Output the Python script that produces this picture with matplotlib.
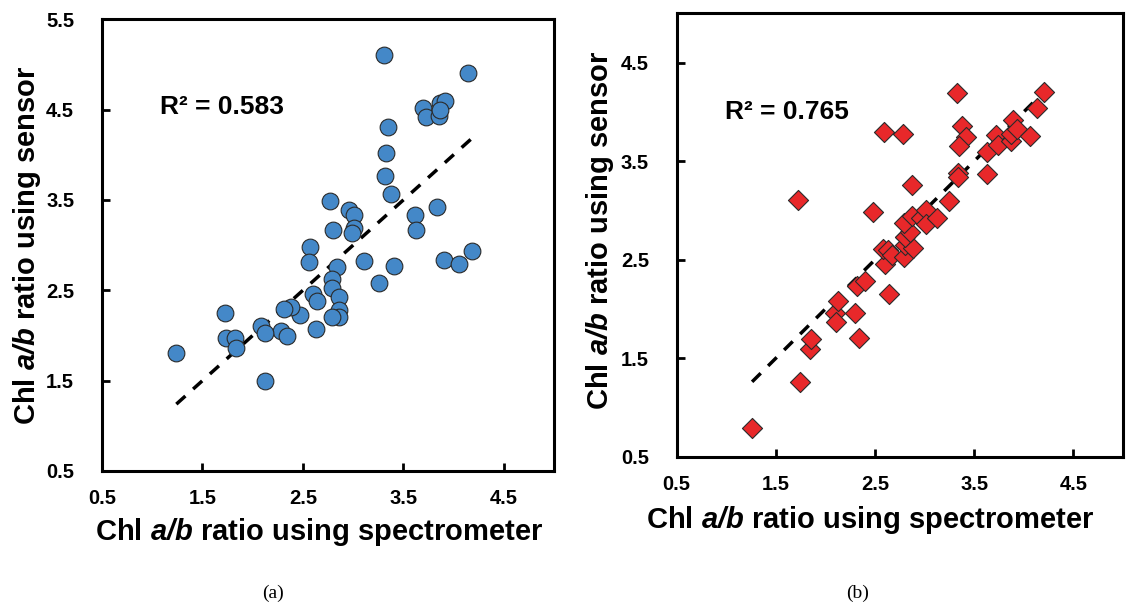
import numpy as np
from matplotlib import pyplot as plt

plt.rcParams['font.family'] = ['Liberation Sans', 'DejaVu Sans']
plt.rcParams['mathtext.fontset'] = 'custom'
plt.rcParams['mathtext.bfit'] = 'Liberation Sans:italic:bold'
plt.rcParams['mathtext.rm'] = 'Liberation Sans:bold'

# panel (a): sensor vs spectrometer, circles
spec_a = [3.31, 4.14, 3.70, 3.73, 3.86, 3.87, 3.91, 3.87, 3.35, 3.33, 3.32, 3.38,
          2.77, 2.96, 3.01, 3.62, 3.84, 3.63, 2.80, 3.01, 2.99, 2.57, 2.56, 2.84,
          3.11, 3.41, 3.90, 4.05, 4.18, 3.26, 2.79, 2.79, 2.60, 2.64, 2.86, 2.86,
          2.86, 2.79, 2.63, 2.47, 2.38, 2.31, 2.28, 2.34, 2.08, 2.12, 1.72, 1.73,
          1.82, 1.83, 1.24, 2.12]
sensor_a = [5.10, 4.91, 4.52, 4.42, 4.43, 4.57, 4.60, 4.50, 4.31, 4.02, 3.77, 3.57,
            3.49, 3.39, 3.33, 3.33, 3.42, 3.17, 3.17, 3.19, 3.14, 2.98, 2.81, 2.76,
            2.83, 2.77, 2.84, 2.79, 2.93, 2.58, 2.63, 2.53, 2.46, 2.38, 2.43, 2.28,
            2.20, 2.20, 2.07, 2.23, 2.31, 2.29, 2.05, 1.99, 2.11, 2.03, 2.25, 1.97,
            1.97, 1.86, 1.81, 1.50]

# panel (b): diamonds
spec_b = [1.26, 1.74, 1.72, 1.84, 1.85, 2.10, 2.11, 2.13, 2.30, 2.34, 2.32, 2.40,
          2.64, 2.60, 2.58, 2.63, 2.67, 2.48, 2.59, 2.78, 2.87, 2.79, 2.80, 2.88,
          2.80, 2.85, 2.79, 2.87, 2.96, 3.01, 3.01, 3.12, 3.25, 3.33, 3.38, 3.42,
          3.35, 3.34, 3.34, 3.63, 3.63, 3.72, 3.74, 3.87, 3.87, 3.89, 3.93, 4.06,
          4.13, 4.20]
sensor_b = [0.79, 1.26, 3.11, 1.59, 1.69, 1.96, 1.87, 2.08, 1.96, 1.70, 2.23, 2.28,
            2.15, 2.46, 2.61, 2.60, 2.55, 2.98, 3.80, 3.78, 3.26, 2.53, 2.65, 2.62,
            2.73, 2.78, 2.87, 2.94, 2.92, 3.00, 2.86, 2.92, 3.10, 4.19, 3.86, 3.74,
            3.65, 3.38, 3.34, 3.59, 3.37, 3.76, 3.66, 3.70, 3.78, 3.92, 3.83, 3.75,
            4.04, 4.20]

r2 = ['0.583', '0.765']
ticks = [0.5, 1.5, 2.5, 3.5, 4.5]
xlabel = 'Chl $\\mathbfit{a/b}$ ratio using spectrometer'
ylabel = 'Chl $\\mathbfit{a/b}$ ratio using sensor'

fig = plt.figure(figsize=(11.26, 6.06), dpi=100)
ax1 = fig.add_axes([0.0906, 0.2228, 0.4014, 0.7453])
ax2 = fig.add_axes([0.601, 0.2464, 0.3963, 0.7316])


def style_axes(ax, ymax):
    ax.set_xlim(0.5, 5.0)
    ax.set_ylim(0.5, ymax)
    ax.set_xticks(ticks)
    ax.set_yticks([t for t in ticks + [5.5] if t <= ymax])
    ax.tick_params(direction='in', length=6, width=2, labelsize=14.5)
    ax.tick_params(axis='x', pad=13)
    ax.tick_params(axis='y', pad=20)
    for lab in ax.get_xticklabels() + ax.get_yticklabels():
        lab.set_fontweight('bold')
    for sp in ax.spines.values():
        sp.set_linewidth(2.2)


def one_to_one(ax, x):
    # 1:1 line across the data range
    xs = np.array([min(x), max(x)])
    ax.plot(xs, xs, color='black', linestyle=(0, (3.5, 3.0)), linewidth=2.5, zorder=1)


one_to_one(ax1, spec_a)
ax1.scatter(spec_a, sensor_a, s=145, marker='o', color='#4488C8',
            edgecolor='#2a2a2a', linewidth=0.8, zorder=2)
style_axes(ax1, 5.5)
ax1.text(1.08, 4.53, 'R² = ' + r2[0], fontsize=19, fontweight='bold', va='center')
ax1.text(0.48, -0.135, xlabel, transform=ax1.transAxes, ha='center', va='center',
         fontsize=21, fontweight='bold')
ax1.text(-0.166, 0.5, ylabel, transform=ax1.transAxes, ha='center', va='center',
         rotation=90, fontsize=21, fontweight='bold')

one_to_one(ax2, spec_b)
ax2.scatter(spec_b, sensor_b, s=105, marker='D', color='#E8282A',
            edgecolor='#2a2a2a', linewidth=0.8, zorder=2)
style_axes(ax2, 5.0)
ax2.text(0.99, 4.0, 'R² = ' + r2[1], fontsize=19, fontweight='bold', va='center')
ax2.text(0.433, -0.143, xlabel, transform=ax2.transAxes, ha='center', va='center',
         fontsize=21, fontweight='bold')
ax2.text(-0.172, 0.511, ylabel, transform=ax2.transAxes, ha='center', va='center',
         rotation=90, fontsize=21, fontweight='bold')

fig.text(273 / 1126, 1 - 593 / 606, '(a)', ha='center', va='center',
         fontsize=14, family='Liberation Serif')
fig.text(858 / 1126, 1 - 593 / 606, '(b)', ha='center', va='center',
         fontsize=14, family='Liberation Serif')

fig.savefig('out.png', dpi=100)
